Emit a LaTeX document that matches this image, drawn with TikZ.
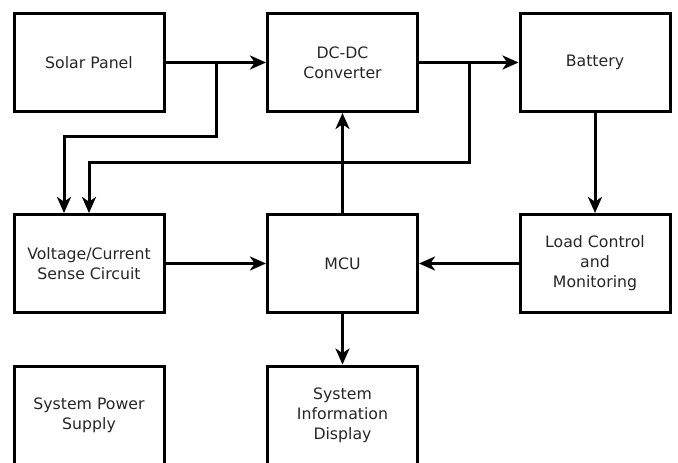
\documentclass[tikz,border=0pt]{standalone}
\usepackage{fontspec}
\setmainfont{DejaVu Sans}
\usetikzlibrary{arrows.meta}

\tikzset{
	block/.style={draw, rectangle, line width=2.25pt, minimum width=112.5pt,
		minimum height=73.5pt, align=center, text=black!85,
		font=\fontsize{11.8}{15}\selectfont},
	wire/.style={line width=2.25pt, -{Stealth[length=12pt, width=10.5pt, inset=3.5pt]}}
}

\begin{document}
\begin{tikzpicture}[x=0.75pt, y=-0.75pt]
	\clip (0,0) rectangle (678,463);
	% top row
	\node [block] (solar) at (89,62.5)  {Solar Panel};
	\node [block] (dcdc)  at (342.5,62.5) {DC-DC\\Converter};
	\node [block] (batt)  at (595,62.5) {Battery};
	% middle row
	\node [block] (sense) at (89,263.5) {Voltage/Current\\Sense Circuit};
	\node [block] (mcu)   at (342.5,263.5) {MCU};
	\node [block] (load)  at (595,263.5) {Load Control\\and\\Monitoring};
	% bottom row
	\node [block] (supply) at (89,415) {System Power\\Supply};
	\node [block] (disp)   at (342.5,415) {System\\Information\\Display};
	% branch points
	\coordinate (j1) at (216,62.5);
	\coordinate (j2) at (469,62.5);
	\draw [wire] (solar) -- (dcdc);
	\draw [wire] (dcdc) -- (batt);
	\draw [wire] (j1) -- (216,137) -| ([xshift=-18.75pt]sense.north);
	\draw [wire] (j2) -- (469,163) -| (sense.north);
	\draw [wire] (batt) -- (load);
	\draw [wire] (sense) -- (mcu);
	\draw [wire] (load) -- (mcu);
	\draw [wire] (mcu) -- (dcdc);
	\draw [wire] (mcu) -- (disp);
\end{tikzpicture}
\end{document}
